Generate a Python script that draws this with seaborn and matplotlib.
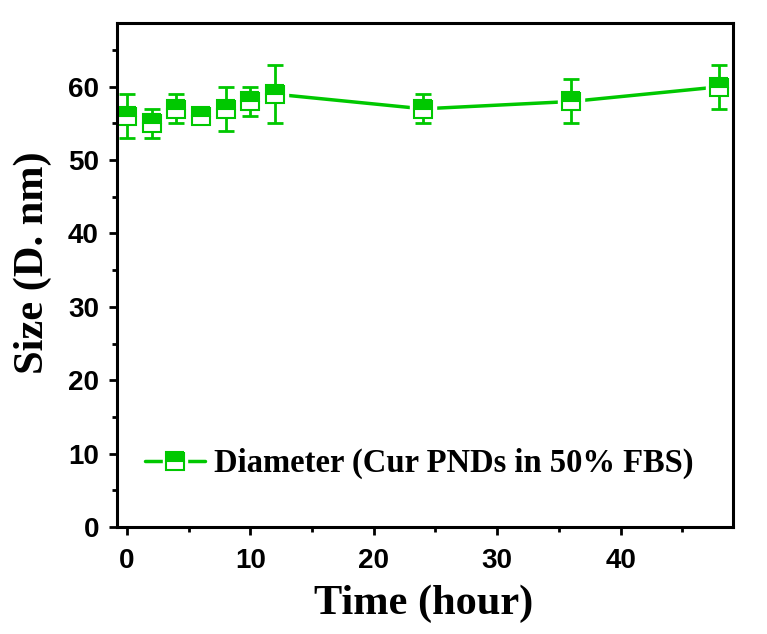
import numpy as np
import pandas as pd
import seaborn as sns
import matplotlib.pyplot as plt
from matplotlib.lines import Line2D
from matplotlib.legend_handler import HandlerTuple
from matplotlib.ticker import MultipleLocator

# dados
tempo = [0, 2, 4, 6, 8, 10, 12, 24, 36, 48]
diametro = [56, 55, 57, 56, 57, 58, 59, 57, 58, 60]
erro = [3, 2, 2, 1, 3, 2, 4, 2, 3, 3]
rotulo = 'Diameter (Cur PNDs in 50% FBS)'

verde = '#00C800'

df = pd.DataFrame({'tempo': tempo, 'diametro': diametro, 'erro': erro})

sns.set_style('ticks')
plt.rcParams['font.family'] = ['Liberation Sans', 'DejaVu Sans']
for chave in ['text.color', 'axes.labelcolor', 'xtick.color', 'ytick.color']:
    plt.rcParams[chave] = 'black'

fig = plt.figure(figsize=(7.67, 6.34), dpi=100)
ax = fig.add_axes([0.1525, 0.169, 0.8032, 0.7947])

sns.lineplot(data=df, x='tempo', y='diametro', color=verde, lw=2.5, ax=ax, zorder=2)
# espaço branco em volta dos marcadores (como no Origin)
ax.plot(df['tempo'], df['diametro'], 's', ms=18.5, color='white', zorder=3)
ax.errorbar(df['tempo'], df['diametro'], yerr=df['erro'], fmt='none', ecolor=verde,
            elinewidth=2, capsize=5.5, capthick=2, zorder=4)
ax.plot(df['tempo'], df['diametro'], 's', ms=13, mfc=verde, markerfacecoloralt='white',
        fillstyle='top', mec=verde, mew=1.5, zorder=5)

ax.set_xlim(-0.8, 49.1)
ax.set_ylim(0, 68.7)
ax.xaxis.set_major_locator(MultipleLocator(10))
ax.xaxis.set_minor_locator(MultipleLocator(5))
ax.yaxis.set_major_locator(MultipleLocator(10))
ax.yaxis.set_minor_locator(MultipleLocator(5))

for lado in ['top', 'right', 'left', 'bottom']:
    ax.spines[lado].set_visible(True)
    ax.spines[lado].set_linewidth(2.2)
    ax.spines[lado].set_color('black')
    ax.spines[lado].set_zorder(6)

ax.tick_params(which='major', direction='out', length=6, width=2, labelsize=20)
ax.tick_params(which='minor', direction='out', length=3.5, width=2)
ax.tick_params(axis='x', which='major', pad=9)
ax.tick_params(axis='y', which='major', pad=7)
for lbl in ax.get_xticklabels() + ax.get_yticklabels():
    lbl.set_fontweight('bold')

ax.set_xlabel('Time (hour)', fontsize=30.5, fontweight='bold', family='Liberation Serif', va='center')
ax.set_ylabel('Size (D. nm)', fontsize=30.5, fontweight='bold', family='Liberation Serif', va='center')
ax.xaxis.set_label_coords(0.497, -0.153)
ax.yaxis.set_label_coords(-0.137, 0.525)

linha = Line2D([], [], color=verde, lw=2.5)
fundo = Line2D([], [], ls='none', marker='s', ms=17.5, color='white')
marca = Line2D([], [], ls='none', marker='s', ms=12.5, mfc=verde, markerfacecoloralt='white',
               fillstyle='top', mec=verde, mew=1.5)
ax.legend([(linha, fundo, marca)], [rotulo], handler_map={tuple: HandlerTuple(ndivide=1, pad=0)},
          loc='center left', bbox_to_anchor=(-0.002, 0.125), frameon=False,
          handlelength=1.85, handletextpad=0.25,
          prop={'family': 'Liberation Serif', 'weight': 'bold', 'size': 23.5})

fig.savefig('out.png', dpi=100)
